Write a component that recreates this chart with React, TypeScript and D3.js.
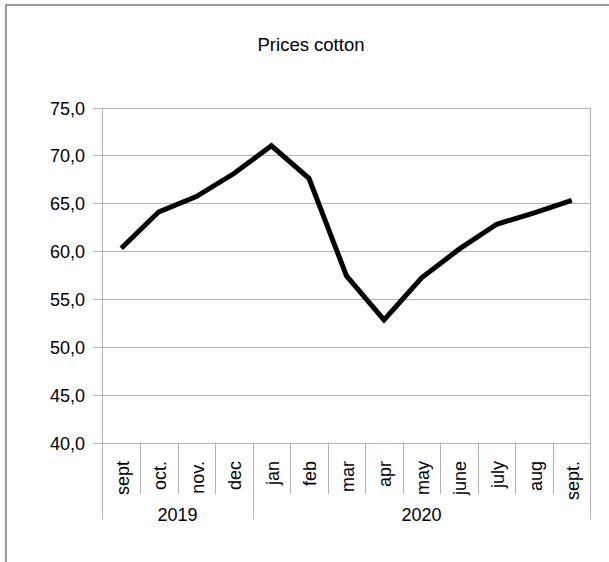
import React, { useEffect, useRef } from "react";
import * as d3 from "d3";

const months = ["sept", "oct.", "nov.", "dec", "jan", "feb", "mar", "apr", "may", "june", "july", "aug", "sept."];
const prices = [60.3, 64.1, 65.7, 68.1, 71.0, 67.6, 57.4, 52.8, 57.2, 60.2, 62.8, 64.0, 65.3];
const years = [
  { label: "2019", start: 0, end: 4 },
  { label: "2020", start: 4, end: 13 },
];
const yTicks = [40, 45, 50, 55, 60, 65, 70, 75];
const title = "Prices cotton";

const W = 609;
const H = 562;
const FONT = "'Liberation Sans', Arial, sans-serif";

export default function App() {
  const ref = useRef<SVGSVGElement>(null);

  useEffect(() => {
    const svg = d3.select(ref.current);
    svg.selectAll("*").remove();

    const left = 102.5, right = 590.5, top = 107.5, bottom = 442.5;

    const x = d3.scaleBand<number>().domain(d3.range(months.length)).range([left, right]).padding(0);
    const y = d3.scaleLinear().domain([40, 75]).range([bottom, top]);
    const grid = "#b3b3b3";

    // outer border
    svg.append("rect")
      .attr("x", 6).attr("y", 5).attr("width", 800).attr("height", 800)
      .attr("fill", "white").attr("stroke", "#7a7a7a").attr("stroke-width", 1.5);

    // title
    svg.append("text")
      .attr("x", 311).attr("y", 51)
      .attr("text-anchor", "middle")
      .attr("font-family", FONT).attr("font-size", 18.5)
      .attr("fill", "#000")
      .text(title);

    // gridlines + y ticks
    const yg = svg.append("g");
    yTicks.forEach((t) => {
      const yy = Math.round(y(t)) + 0.5;
      yg.append("line")
        .attr("x1", 93).attr("x2", right)
        .attr("y1", yy).attr("y2", yy)
        .attr("stroke", grid).attr("stroke-width", 1);
      yg.append("text")
        .attr("x", 85).attr("y", yy)
        .attr("dy", "0.35em")
        .attr("text-anchor", "end")
        .attr("font-family", FONT).attr("font-size", 18)
        .attr("fill", "#000")
        .text(d3.format(".1f")(t).replace(".", ","));
    });

    // plot frame verticals
    svg.append("line").attr("x1", left).attr("x2", left).attr("y1", top).attr("y2", 519)
      .attr("stroke", grid).attr("stroke-width", 1);
    svg.append("line").attr("x1", right).attr("x2", right).attr("y1", top).attr("y2", 519)
      .attr("stroke", grid).attr("stroke-width", 1);

    // category separators
    months.forEach((_, i) => {
      if (i === 0) return;
      const xx = Math.round(x(i)!) + 0.5;
      const isYearBoundary = years.some((yr) => yr.start === i);
      svg.append("line")
        .attr("x1", xx).attr("x2", xx)
        .attr("y1", bottom).attr("y2", isYearBoundary ? 519 : 494)
        .attr("stroke", grid).attr("stroke-width", 1);
    });

    // month labels
    months.forEach((m, i) => {
      const cx = x(i)! + x.bandwidth() / 2;
      svg.append("text")
        .attr("transform", `translate(${cx + 1},461) rotate(-90)`)
        .attr("text-anchor", "end")
        .attr("dy", "0.35em")
        .attr("font-family", FONT).attr("font-size", 18)
        .attr("fill", "#000")
        .text(m);
    });

    // year labels
    years.forEach((yr) => {
      const cx = (x(yr.start)! + (yr.end >= months.length ? right : x(yr.end)!)) / 2;
      svg.append("text")
        .attr("x", cx).attr("y", 521)
        .attr("text-anchor", "middle")
        .attr("font-family", FONT).attr("font-size", 18)
        .attr("fill", "#000")
        .text(yr.label);
    });

    // line
    const line = d3.line<number>()
      .x((_, i) => x(i)! + x.bandwidth() / 2)
      .y((d) => y(d));
    svg.append("path")
      .datum(prices)
      .attr("d", line)
      .attr("fill", "none")
      .attr("stroke", "#000")
      .attr("stroke-width", 5)
      .attr("stroke-linejoin", "miter");
  }, []);

  return (
    <svg
      ref={ref}
      width={W}
      height={H}
      style={{ position: "absolute", left: 0, top: 0, background: "white" }}
    />
  );
}
